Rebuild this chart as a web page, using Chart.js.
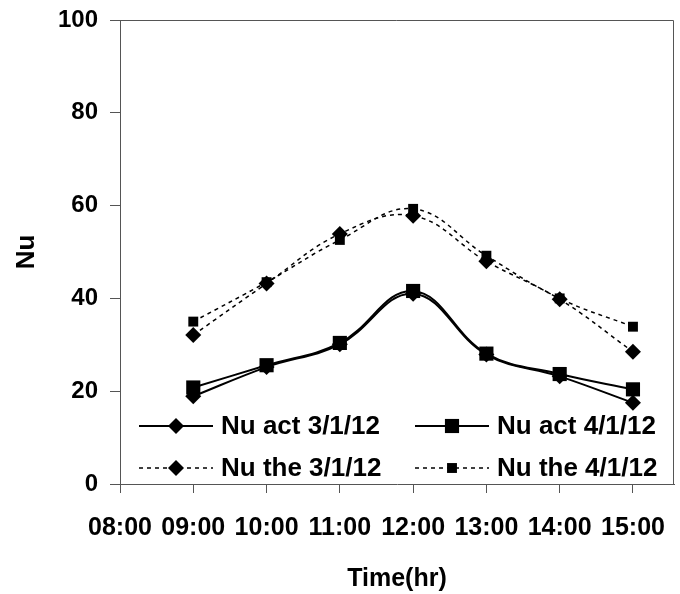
<!DOCTYPE html>
<html>
<head>
<meta charset="utf-8">
<script src="https://cdn.jsdelivr.net/npm/chart.js@4/dist/chart.umd.min.js"></script>
<style>
  html, body { margin: 0; padding: 0; background: #ffffff; }
  #wrap { width: 680px; height: 594px; }
</style>
</head>
<body>
<div id="wrap"><canvas id="c" width="680" height="594"></canvas></div>
<script>
// Hour of day for each reading
const hours = [9, 10, 11, 12, 13, 14, 15];
// Axis tick positions (hours) and their labels
const xTickValues = [8, 9, 10, 11, 12, 13, 14, 15];
const xTickLabels = ['08:00', '09:00', '10:00', '11:00', '12:00', '13:00', '14:00', '15:00'];
const yTickValues = [0, 20, 40, 60, 80, 100];

// Nusselt number series
const nuAct0301 = [18.9, 25.2, 30.1, 41.0, 27.9, 23.2, 17.5];
const nuAct0401 = [20.8, 25.6, 30.4, 41.6, 28.1, 23.7, 20.4];
const nuThe0301 = [32.1, 43.2, 53.9, 57.8, 48.0, 39.8, 28.5];
const nuThe0401 = [35.0, 43.5, 52.6, 59.3, 49.2, 40.0, 33.9];

const seriesNames = ['Nu act 3/1/12', 'Nu act 4/1/12', 'Nu the 3/1/12', 'Nu the 4/1/12'];

const FONT = '"Liberation Sans", Arial, sans-serif';
const INK = '#000000';
const AXIS = '#555555';

function pts(vals) { return hours.map((h, i) => ({ x: h, y: vals[i] })); }

const datasets = [
  { label: seriesNames[0], data: pts(nuAct0301), borderColor: INK, backgroundColor: INK,
    borderWidth: 2, pointStyle: 'rectRot', pointRadius: 8, pointBorderWidth: 0, tension: 0.4 },
  { label: seriesNames[1], data: pts(nuAct0401), borderColor: INK, backgroundColor: INK,
    borderWidth: 2, pointStyle: 'rect', pointRadius: 10, pointBorderWidth: 0, tension: 0.4 },
  { label: seriesNames[2], data: pts(nuThe0301), borderColor: INK, backgroundColor: INK,
    borderWidth: 1.5, borderDash: [4, 4], pointStyle: 'rectRot', pointRadius: 8, pointBorderWidth: 0, tension: 0.4 },
  { label: seriesNames[3], data: pts(nuThe0401), borderColor: INK, backgroundColor: INK,
    borderWidth: 1.5, borderDash: [4, 4], pointStyle: 'rect', pointRadius: 7, pointBorderWidth: 0, tension: 0.4 }
];

// Grey frame on the top and right of the plot area
const frame = {
  id: 'frame',
  beforeDatasetsDraw(chart) {
    const { ctx, chartArea: a } = chart;
    ctx.save();
    ctx.strokeStyle = AXIS;
    ctx.lineWidth = 1;
    ctx.beginPath();
    ctx.moveTo(a.left, a.top + 0.5);
    ctx.lineTo(a.right - 0.5, a.top + 0.5);
    ctx.lineTo(a.right - 0.5, a.bottom);
    ctx.stroke();
    ctx.restore();
  }
};

// Two-column legend sitting inside the lower part of the plot
const insideLegend = {
  id: 'insideLegend',
  afterDatasetsDraw(chart) {
    const { ctx, chartArea: a } = chart;
    const cols = [a.left + 19, a.left + 295];
    const rows = [a.bottom - 58, a.bottom - 16];
    const lineLen = 74;
    ctx.save();
    ctx.font = 'bold 26px ' + FONT;
    ctx.textBaseline = 'middle';
    ctx.textAlign = 'left';
    chart.data.datasets.forEach((ds, i) => {
      const x = cols[i % 2];
      const y = rows[Math.floor(i / 2)];
      ctx.strokeStyle = ds.borderColor;
      ctx.fillStyle = ds.backgroundColor;
      ctx.lineWidth = ds.borderWidth;
      ctx.setLineDash(ds.borderDash || []);
      ctx.beginPath();
      ctx.moveTo(x, y);
      ctx.lineTo(x + lineLen, y);
      ctx.stroke();
      ctx.setLineDash([]);
      Chart.helpers.drawPoint(ctx, { pointStyle: ds.pointStyle, radius: ds.pointRadius, rotation: 0, borderWidth: 0 }, x + lineLen / 2, y);
      ctx.fillStyle = INK;
      ctx.fillText(ds.label, x + lineLen + 8, y + 1);
    });
    ctx.restore();
  }
};

new Chart(document.getElementById('c'), {
  type: 'line',
  data: { datasets },
  options: {
    responsive: false,
    animation: false,
    devicePixelRatio: 1,
    layout: { autoPadding: false, padding: { top: 20, right: 6, left: 0, bottom: 0 } },
    plugins: { legend: { display: false }, tooltip: { enabled: false } },
    elements: { point: { hoverRadius: 0 } },
    scales: {
      x: {
        type: 'linear',
        min: 8,
        max: 15.56,
        afterBuildTicks(s) { s.ticks = xTickValues.map(v => ({ value: v })); },
        afterFit(s) { s.height = 110; s.paddingLeft = 0; s.paddingRight = 0; },
        grid: { drawOnChartArea: false, drawTicks: true, tickLength: 9, tickColor: AXIS },
        border: { display: true, color: AXIS, width: 1 },
        ticks: {
          color: INK,
          font: { family: FONT, size: 25, weight: 'bold' },
          padding: 20,
          maxRotation: 0,
          autoSkip: false,
          callback(v) { const k = xTickValues.indexOf(v); return k >= 0 ? xTickLabels[k] : ''; }
        },
        title: {
          display: true, text: 'Time(hr)', color: INK,
          font: { family: FONT, size: 25, weight: 'bold' },
          padding: { top: 0, bottom: 0 }
        }
      },
      y: {
        min: 0,
        max: 100,
        afterBuildTicks(s) { s.ticks = yTickValues.map(v => ({ value: v })); },
        afterFit(s) { s.width = 120; s.paddingTop = 0; s.paddingBottom = 0; },
        grid: { drawOnChartArea: false, drawTicks: true, tickLength: 10, tickColor: AXIS },
        border: { display: true, color: AXIS, width: 1 },
        ticks: {
          color: INK,
          font: { family: FONT, size: 24, weight: 'bold' },
          padding: 12
        },
        title: {
          display: true, text: 'Nu', color: INK,
          font: { family: FONT, size: 26, weight: 'bold' },
          padding: { top: 11, bottom: 0 }
        }
      }
    }
  },
  plugins: [frame, insideLegend]
});
</script>
</body>
</html>
